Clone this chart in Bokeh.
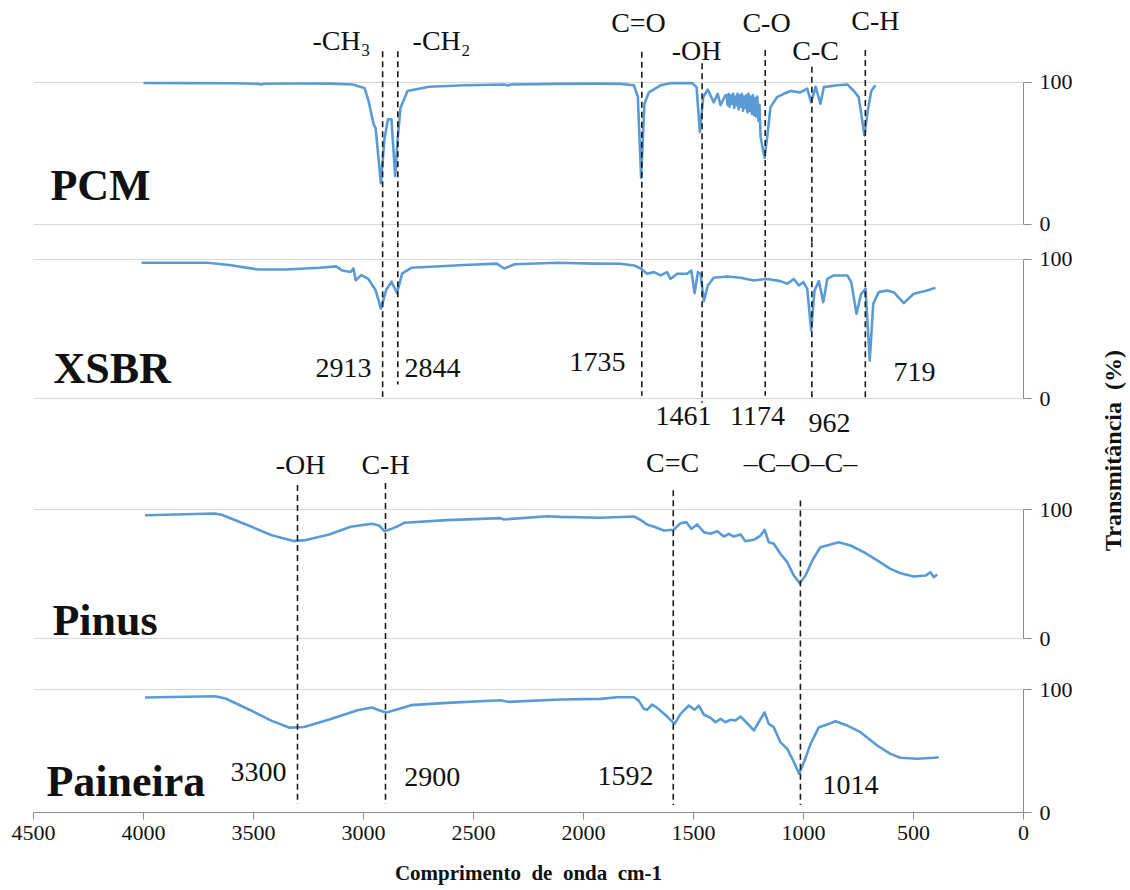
import math

from bokeh.core.properties import value
from bokeh.embed import file_html
from bokeh.layouts import column, row
from bokeh.models import FixedTicker, Range1d
from bokeh.plotting import figure
from bokeh.resources import INLINE

# ---------------------------------------------------------------- spectra
pcm_wavenumber = [
    4000, 3800, 3600, 3480, 3465, 3450, 3300, 3150, 3050, 2995, 2977, 2963,
    2953, 2945, 2921, 2905, 2889, 2873, 2856, 2845, 2832, 2800, 2702, 2540,
    2360, 2345, 2330, 2118, 1920, 1832, 1771, 1753, 1738, 1723, 1703, 1650,
    1605, 1506, 1486, 1471, 1456, 1435, 1408, 1390, 1377, 1355,
    1350, 1345, 1340, 1335, 1330, 1325, 1320, 1315, 1310, 1305, 1300, 1295,
    1290, 1285, 1280, 1275, 1270, 1265, 1260, 1255, 1250, 1245, 1240, 1235,
    1230, 1225, 1220, 1215, 1210, 1205, 1200,
    1195, 1177, 1165, 1150, 1120, 1090, 1059, 1014, 983, 965, 945, 923, 908,
    847, 801, 771, 749, 723, 708, 692, 673,
]
pcm_transmittance = [
    99.6, 99.5, 99.4, 99.0, 98.6, 99.1, 99.3, 99.2, 98.6, 96.0, 87.0, 77.0,
    70.0, 68.0, 29.0, 60.0, 74.0, 74.0, 34.0, 60.0, 82.0, 94.0, 97.0, 98.0,
    98.5, 97.8, 98.6, 99.0, 99.2, 99.0, 98.0, 90.0, 33.0, 85.0, 93.0, 98.0,
    99.5, 99.5, 96.7, 65.0, 89.7, 95.0, 86.0, 92.0, 84.0, 91.0,
    91.0, 84.0, 92.0, 83.0, 91.0, 85.0, 92.0, 82.0, 90.0, 84.0, 92.0, 81.0,
    91.0, 83.0, 92.0, 80.0, 90.0, 82.0, 91.0, 79.0, 92.0, 80.0, 90.0, 78.0,
    91.0, 77.0, 89.0, 76.0, 90.0, 73.0, 84.0,
    61.5, 47.0, 61.5, 82.6, 89.7, 92.0, 94.0, 93.0, 95.6, 86.0, 97.0, 85.0,
    96.7, 98.0, 98.6, 94.0, 89.7, 62.7, 80.0, 94.0, 98.0,
]

xsbr_wavenumber = [
    4009, 3709, 3611, 3480, 3351, 3200, 3124, 3096, 3059, 3046, 3035, 3010,
    2978, 2945, 2921, 2897, 2873, 2848, 2824, 2783, 2541, 2394, 2361, 2312,
    2118, 1950, 1832, 1771, 1738, 1711, 1680, 1650, 1620, 1605, 1574, 1529,
    1510, 1495, 1480, 1468, 1453, 1435, 1408, 1347, 1286, 1226, 1165, 1105,
    1074, 1044, 1021, 1001, 983, 965, 950, 930, 910, 892, 862, 801, 783, 759,
    738, 718, 699, 683, 658, 620, 590, 544, 499, 438, 400,
]
xsbr_transmittance = [
    97.6, 97.6, 96.0, 92.8, 92.8, 94.0, 95.0, 92.0, 91.0, 93.5, 85.0, 88.7,
    86.0, 78.0, 64.6, 78.0, 84.0, 76.0, 90.0, 94.0, 96.0, 97.0, 93.5, 96.6,
    97.6, 97.0, 96.9, 95.7, 93.3, 89.7, 90.9, 88.5, 90.9, 86.0, 89.7, 89.7,
    92.0, 75.8, 90.9, 89.7, 70.0, 81.3, 86.8, 87.8, 86.8, 84.9, 86.0, 84.4,
    82.5, 86.0, 81.3, 83.7, 78.9, 48.9, 77.7, 84.4, 69.3, 86.0, 88.5, 88.5,
    83.7, 60.9, 75.3, 78.9, 27.3, 68.1, 76.5, 77.7, 76.5, 68.6, 75.3, 77.7,
    79.6,
]

pinus_wavenumber = [
    3993, 3676, 3645, 3514, 3417, 3318, 3262, 3156, 3059, 2962, 2929, 2905,
    2873, 2850, 2815, 2621, 2377, 2361, 2166, 2105, 1923, 1862, 1771, 1741,
    1711, 1673, 1635, 1590, 1559, 1532, 1510, 1483, 1453, 1423, 1392, 1362,
    1340, 1317, 1286, 1264, 1226, 1195, 1177, 1158, 1135, 1105, 1074, 1044,
    1017, 991, 960, 923, 877, 840, 786, 726, 665, 605, 559, 499, 445, 423,
    408, 392,
]
pinus_transmittance = [
    95.6, 96.9, 96.0, 87.0, 80.0, 75.5, 76.3, 80.7, 86.6, 89.0, 87.6, 83.2,
    85.0, 86.6, 89.7, 91.8, 93.3, 92.3, 94.8, 94.3, 93.6, 94.0, 94.6, 92.0,
    88.4, 86.3, 83.7, 84.3, 89.4, 90.2, 85.0, 88.4, 82.4, 81.2, 83.2, 79.0,
    81.2, 79.0, 80.6, 75.4, 76.5, 79.8, 84.3, 74.7, 73.4, 65.7, 59.2, 48.8,
    42.9, 48.8, 60.5, 70.8, 72.9, 74.7, 72.1, 66.9, 60.5, 54.0, 50.6, 48.1,
    48.8, 51.4, 47.5, 49.6,
]

paineira_wavenumber = [
    3993, 3676, 3627, 3514, 3417, 3336, 3270, 3156, 3027, 2962, 2929, 2897,
    2848, 2783, 2621, 2377, 2345, 2105, 1923, 1847, 1771, 1749, 1726, 1711,
    1688, 1665, 1620, 1586, 1559, 1521, 1495, 1476, 1453, 1423, 1400, 1377,
    1355, 1332, 1309, 1286, 1256, 1226, 1199, 1177, 1158, 1135, 1105, 1074,
    1047, 1020, 995, 968, 930, 892, 855, 801, 741, 665, 605, 559, 483, 408,
    385,
]
paineira_transmittance = [
    93.5, 94.6, 92.7, 83.2, 74.5, 69.0, 69.6, 75.6, 83.2, 85.4, 83.2, 81.3,
    83.7, 87.3, 89.2, 91.3, 90.0, 91.9, 92.4, 93.7, 93.7, 91.0, 84.3, 83.5,
    87.8, 85.1, 78.0, 72.1, 80.2, 87.0, 83.5, 87.0, 79.7, 77.0, 73.4, 76.2,
    73.4, 75.4, 74.8, 78.0, 72.6, 66.7, 74.8, 81.5, 72.1, 69.4, 57.2, 51.8,
    42.3, 31.5, 42.3, 55.8, 69.4, 71.5, 74.2, 70.7, 65.3, 54.5, 47.7, 44.5,
    43.7, 44.5, 45.0,
]

# ------------------------------------------------------- band assignments
sample_names = ["PCM", "XSBR", "Pinus", "Paineira"]
polymer_band_wavenumber = [2913, 2844, 1735, 1461, 1174, 962, 719]
polymer_band_group = ["-CH\u2083", "-CH\u2082", "C=O", "-OH", "C-O", "C-C", "C-H"]
wood_band_wavenumber = [3300, 2900, 1592, 1014]
wood_band_group = ["-OH", "C-H", "C=C", "\u2013C\u2013O\u2013C\u2013"]

x_ticks = [0, 500, 1000, 1500, 2000, 2500, 3000, 3500, 4000, 4500]
y_ticks = [0, 100]
x_title = "Comprimento\u00a0 de\u00a0 onda\u00a0 cm-1"
y_title = "Transmit\u00e2ncia\u00a0 (%)"

# ---------------------------------------------------------------- styling
SERIF = value("Liberation Serif")
LINE_COLOR = "#5B9BD5"
AXIS_COLOR = "#8C8C8C"
GRID_COLOR = "#D9D9D9"
TEXT_COLOR = "#111111"
LEFT, FRAME_W, RIGHT = 33, 990, 62
BOTTOM = 78


def make_panel(frame_h, y_lo, y_hi, with_x_axis=False):
    p = figure(
        width=LEFT + FRAME_W + RIGHT,
        height=frame_h + (BOTTOM if with_x_axis else 0),
        x_range=Range1d(4500, 0),
        y_range=Range1d(y_lo, y_hi),
        x_axis_location="below" if with_x_axis else None,
        y_axis_location="right",
        min_border_left=LEFT,
        min_border_right=RIGHT,
        min_border_top=0,
        min_border_bottom=BOTTOM if with_x_axis else 0,
        output_backend="svg",
        toolbar_location=None,
    )
    p.outline_line_color = None
    p.background_fill_color = "white"
    p.border_fill_color = "white"
    p.xgrid.visible = False
    p.ygrid.ticker = FixedTicker(ticks=y_ticks)
    p.ygrid.grid_line_color = GRID_COLOR
    p.ygrid.grid_line_width = 1

    ax = p.yaxis[0]
    ax.ticker = FixedTicker(ticks=y_ticks)
    ax.bounds = (0, 100)
    ax.axis_line_color = AXIS_COLOR
    ax.major_tick_line_color = AXIS_COLOR
    ax.major_tick_out = 8
    ax.major_tick_in = 0
    ax.minor_tick_line_color = None
    ax.major_label_standoff = 8
    ax.major_label_text_font = "Liberation Serif"
    ax.major_label_text_font_size = "22px"
    ax.major_label_text_color = TEXT_COLOR

    if with_x_axis:
        xa = p.xaxis[0]
        xa.ticker = FixedTicker(ticks=x_ticks)
        xa.axis_line_color = AXIS_COLOR
        xa.major_tick_line_color = AXIS_COLOR
        xa.major_tick_out = 7
        xa.major_tick_in = 0
        xa.minor_tick_line_color = None
        xa.major_label_standoff = 6
        xa.major_label_text_font = "Liberation Serif"
        xa.major_label_text_font_size = "22px"
        xa.major_label_text_color = TEXT_COLOR
        xa.axis_label = x_title
        xa.axis_label_standoff = 18
        xa.axis_label_text_font = "Liberation Serif"
        xa.axis_label_text_font_style = "bold"
        xa.axis_label_text_font_size = "21px"
        xa.axis_label_text_color = TEXT_COLOR
    return p


def add_text(p, x, y, text, size="28px", align="center", bold=False):
    p.text(x=x, y=y, text=text, text_font=SERIF, text_font_size=size,
           text_align=align, text_baseline="middle", text_color=TEXT_COLOR,
           text_font_style="bold" if bold else "normal")


def add_dashes(p, xs, tops, bottoms):
    p.segment(x0=xs, y0=tops, x1=xs, y1=bottoms, line_color="#1A1A1A",
              line_width=1.6, line_dash="6 4")


# frame heights and transmittance windows of the four stacked panels
p_pcm = make_panel(242, -12.7, 157.7)
p_xsbr = make_panel(198, -30.2, 112.2)
p_pinus = make_panel(222, -18.6, 153.5)
p_paineira = make_panel(150, 0, 122.0, with_x_axis=True)

for p, wn, tr in [
    (p_pcm, pcm_wavenumber, pcm_transmittance),
    (p_xsbr, xsbr_wavenumber, xsbr_transmittance),
    (p_pinus, pinus_wavenumber, pinus_transmittance),
    (p_paineira, paineira_wavenumber, paineira_transmittance),
]:
    p.line(wn, tr, line_color=LINE_COLOR, line_width=2.6, line_join="round")

# dashed guides that run from the PCM panel down into the XSBR panel
add_dashes(p_pcm, polymer_band_wavenumber,
           [122, 122, 121.7, 113.5, 122.8, 111, 122.8], [-100] * 7)
add_dashes(p_xsbr, polymer_band_wavenumber,
           [300] * 7, [1, 10, 2, -3, 2, 0, -2])
# dashed guides through the two wood panels
add_dashes(p_pinus, wood_band_wavenumber, [119, 120.6, 115, 107], [-100] * 4)
add_dashes(p_paineira, wood_band_wavenumber, [300] * 4, [7, 7, 6, 6])

# functional-group labels above the PCM spectrum
add_text(p_pcm, [3100, 2645, 1750, 1486, 1168, 945, 673],
         [129.6, 129.6, 142, 122.5, 142, 122.5, 143.7], polymer_band_group)

# wavenumber labels around the XSBR spectrum
n = [str(w) for w in polymer_band_wavenumber]
add_text(p_xsbr, [2964, 1809], [21.6, 26], [n[0], n[2]], align="right")
add_text(p_xsbr, [2814, 591], [22, 18.8], [n[1], n[6]], align="left")
add_text(p_xsbr, [1545, 1209, 882], [-12.5, -12.5, -17.3], [n[3], n[4], n[5]])

# functional-group labels above the Pinus spectrum
add_text(p_pinus, [3286, 2900, 1595, 1014], [134.8, 134.8, 136.7, 136.7],
         wood_band_group)

# wavenumber labels around the Paineira spectrum
m = [str(w) for w in wood_band_wavenumber]
add_text(p_paineira, [3350, 1682], [33, 30], [m[0], m[2]], align="right")
add_text(p_paineira, [2815, 914], [29, 22], [m[1], m[3]], align="left")

# sample names
for p, x, y, name in [
    (p_pcm, 4423, 27.5, sample_names[0]),
    (p_xsbr, 4409, 21.6, sample_names[1]),
    (p_pinus, 4414, 13.7, sample_names[2]),
    (p_paineira, 4441, 25, sample_names[3]),
]:
    add_text(p, [x], [y], [name], size="44px", align="left", bold=True)

# shared vertical title on the right-hand side
title_w = 1130 - (LEFT + FRAME_W + RIGHT)
p_title = figure(width=title_w, height=890, x_range=Range1d(0, title_w),
                 y_range=Range1d(0, 890), x_axis_location=None,
                 y_axis_location=None, min_border=0, output_backend="svg",
                 toolbar_location=None)
p_title.outline_line_color = None
p_title.grid.visible = False
p_title.text(x=[title_w - 18], y=[440], text=[y_title], angle=math.pi / 2,
             text_font=SERIF, text_font_size="24px", text_font_style="bold",
             text_align="center", text_baseline="middle",
             text_color=TEXT_COLOR)

layout = row(column(p_pcm, p_xsbr, p_pinus, p_paineira, spacing=0), p_title,
             spacing=0)

open("out.html", "w").write(file_html(layout, INLINE))
